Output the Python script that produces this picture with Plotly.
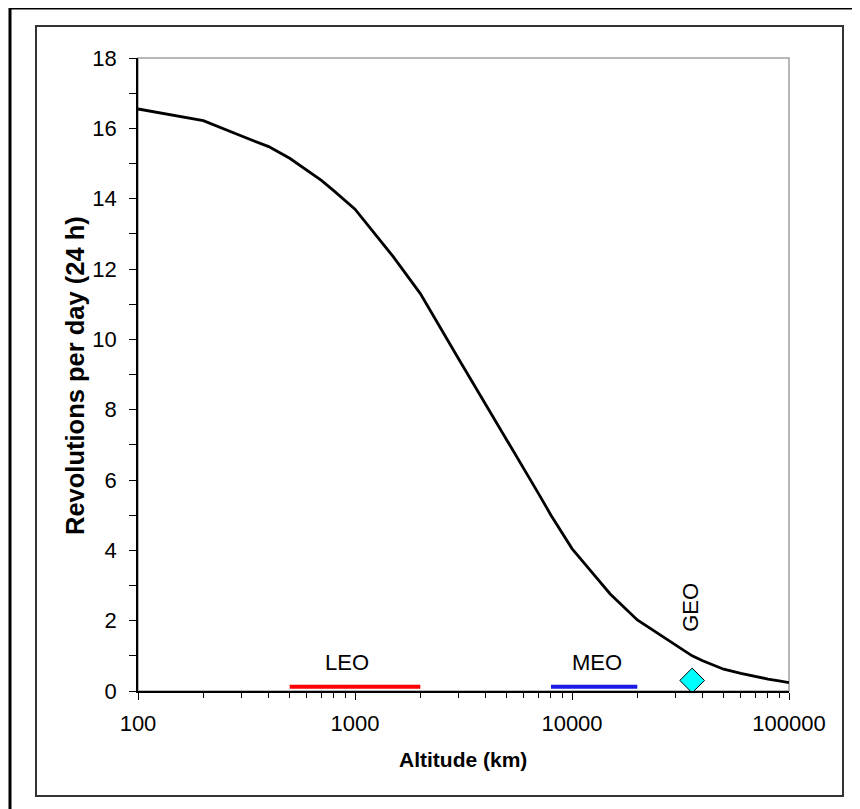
import plotly.graph_objects as go

altitude_km = [100, 200, 300, 400, 500, 600, 700, 800, 900, 1000, 1500, 2000, 3000, 4000,
               5000, 6000, 7000, 8000, 9000, 10000, 12500, 15000, 20000, 35786, 40000,
               50000, 60000, 70000, 80000, 90000, 100000]
revs_per_day = [16.55, 16.22, 15.78, 15.48, 15.15, 14.82, 14.52, 14.22, 13.95, 13.7, 12.35,
                11.3, 9.45, 8.15, 7.15, 6.35, 5.62, 5.0, 4.48, 4.05, 3.34, 2.76, 2.02, 1.0,
                0.86, 0.62, 0.5, 0.41, 0.34, 0.29, 0.24]

leo_range = [500, 2000]
meo_range = [8000, 20000]
band_level = [0.12, 0.12]
geo_alt = [35786]
geo_level = [0.3]

x_ticks = [100, 1000, 10000, 100000]
x_tick_labels = ["100", "1000", "10000", "100000"]

FONT = "Arial, Liberation Sans, sans-serif"

fig = go.Figure()
fig.add_trace(go.Scatter(x=altitude_km, y=revs_per_day, mode="lines",
                         line=dict(color="black", width=2.8), showlegend=False))
fig.add_trace(go.Scatter(x=leo_range, y=band_level, mode="lines",
                         line=dict(color="#FF0000", width=4), showlegend=False))
fig.add_trace(go.Scatter(x=meo_range, y=band_level, mode="lines",
                         line=dict(color="#1A1AE6", width=4), showlegend=False))
fig.add_trace(go.Scatter(x=geo_alt, y=geo_level, mode="markers",
                         marker=dict(symbol="diamond", size=19, color="#00FFFF",
                                     line=dict(color="black", width=1)),
                         showlegend=False, cliponaxis=False))

# page body has an 8px margin; positions below are in reference-image pixels
OFF = 8
W, H = 860 - OFF, 809 - OFF
L, T = 138 - OFF, 58 - OFF
R = W - (789 - OFF)
B = H - (691 - OFF)
pw, ph = W - L - R, H - T - B

def px(xp):
    return (xp - 138) / pw

def py(yp):
    return (691 - yp) / ph

shapes = [
    # outer frame
    dict(type="rect", xref="paper", yref="paper", x0=px(10), x1=px(880), y0=py(830), y1=py(8),
         line=dict(color="black", width=3), layer="below"),
    # inner chart box
    dict(type="rect", xref="paper", yref="paper", x0=px(36), x1=px(843), y0=py(796), y1=py(26),
         line=dict(color="#333333", width=2), layer="below"),
    # plot area border (gray)
    dict(type="rect", xref="paper", yref="paper", x0=0, x1=1, y0=0, y1=1,
         line=dict(color="#A0A0A0", width=1.5), layer="below"),
]

annotations = [
    dict(text="LEO", x=2.963, y=0.82, xref="x", yref="y", showarrow=False,
         xanchor="center", yanchor="middle",
         font=dict(size=22, color="black", family=FONT)),
    dict(text="MEO", x=4.115, y=0.82, xref="x", yref="y", showarrow=False,
         xanchor="center", yanchor="middle",
         font=dict(size=22, color="black", family=FONT)),
    dict(text="GEO", x=4.548, y=2.39, xref="x", yref="y", showarrow=False, textangle=-90,
         xanchor="center", yanchor="middle",
         font=dict(size=22, color="black", family=FONT)),
    dict(text="<b>Altitude (km)</b>", x=px(463), y=py(759), xref="paper", yref="paper",
         showarrow=False, xanchor="center", yanchor="middle",
         font=dict(size=21, color="black", family=FONT)),
    dict(text="<b>Revolutions per day (24 h)</b>", x=px(75), y=py(376), xref="paper",
         yref="paper", showarrow=False, textangle=-90, xanchor="center", yanchor="middle",
         font=dict(size=25.5, color="black", family=FONT)),
]

fig.update_layout(
    width=W, height=H,
    margin=dict(l=L, r=R, t=T, b=B, autoexpand=False),
    paper_bgcolor="white", plot_bgcolor="white",
    font=dict(family=FONT, size=22, color="black"),
    shapes=shapes, annotations=annotations,
    showlegend=False,
)
fig.update_xaxes(type="log", range=[2, 5], tickmode="array", tickvals=x_ticks,
                 ticktext=x_tick_labels, ticks="outside", ticklen=7, tickwidth=1,
                 tickcolor="black", showline=True, linecolor="black", linewidth=1.5,
                 showgrid=False, zeroline=False, ticklabelstandoff=5,
                 minor=dict(ticks="outside", ticklen=5, tickcolor="black", dtick="D1",
                            showgrid=False))
fig.update_yaxes(range=[0, 18], dtick=2, tick0=0, ticks="outside", ticklen=7, tickwidth=1,
                 tickcolor="black", showline=True, linecolor="black", linewidth=1.5,
                 showgrid=False, zeroline=False, ticklabelstandoff=8,
                 minor=dict(ticks="outside", ticklen=7, tickcolor="black", dtick=1,
                            showgrid=False))

fig.write_html("out.html")
